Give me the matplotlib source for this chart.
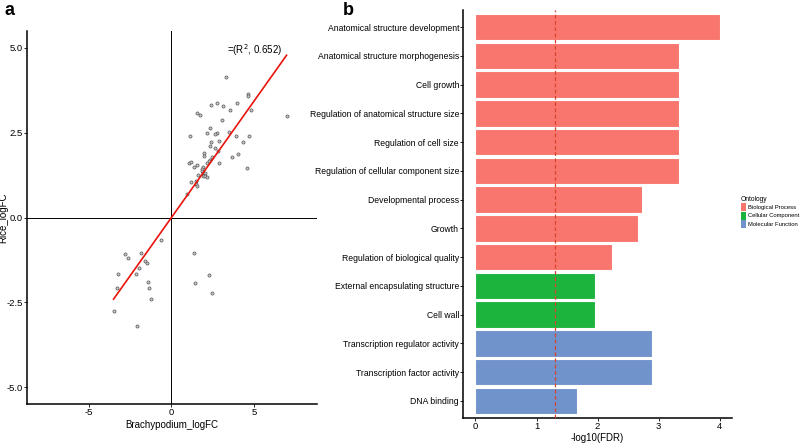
import matplotlib
matplotlib.use("agg")

import matplotlib.pyplot as plt
import numpy as np
from matplotlib.patches import Patch

plt.rcParams["font.family"] = ["Liberation Sans", "DejaVu Sans"]
plt.rcParams["axes.unicode_minus"] = False

# Panel a: logFC of Brachypodium vs rice
brachy_logfc = [3.32, 4.63, 4.63, 3.95, 2.78, 2.42, 3.12, 1.53, 1.75, 3.55, 4.83, 6.95,
                3.08, 1.11, 2.34, 2.13, 2.74, 2.62, 3.50, 3.89, 4.69, 2.88, 2.42, 4.31,
                2.31, 2.62, 2.80, 1.95, 1.99, 4.02, 3.64, 2.48, 2.34, 2.26, 2.17, 1.05,
                1.19, 2.90, 1.57, 1.35, 1.89, 1.87, 4.59, 1.85, 1.92, 1.98, 2.05, 1.90,
                2.02, 2.17, 1.63, 1.17, 1.50, 1.50, 1.55, 0.92,
                -0.65, -2.82, -2.64, -1.85, -1.61, -1.45, -1.97, -2.15, -3.22, -3.28,
                -1.41, -1.35, -1.21, -3.49, -2.10, 1.37, 1.41, 2.28, 2.44]
rice_logfc = [4.15, 3.64, 3.58, 3.37, 3.37, 3.32, 3.29, 3.09, 3.03, 3.16, 3.16, 3.00,
              2.89, 2.39, 2.63, 2.50, 2.50, 2.45, 2.53, 2.41, 2.39, 2.26, 2.24, 2.23,
              2.12, 2.04, 1.95, 1.89, 1.81, 1.88, 1.79, 1.78, 1.71, 1.66, 1.62, 1.61,
              1.64, 1.62, 1.55, 1.48, 1.50, 1.44, 1.47, 1.36, 1.32, 1.25, 1.30, 1.21,
              1.22, 1.18, 1.26, 1.05, 1.08, 0.98, 0.94, 0.69,
              -0.65, -1.09, -1.19, -1.05, -1.29, -1.35, -1.48, -1.68, -1.68, -2.08,
              -1.91, -2.07, -2.39, -2.76, -3.19, -1.04, -1.92, -1.71, -2.22]
r2_value = 0.652

# Panel b: GO enrichment
go_terms = ["Anatomical structure development", "Anatomical structure morphogenesis",
            "Cell growth", "Regulation of anatomical structure size",
            "Regulation of cell size", "Regulation of cellular component size",
            "Developmental process", "Growth", "Regulation of biological quality",
            "External encapsulating structure", "Cell wall",
            "Transcription regulator activity", "Transcription factor activity",
            "DNA binding"]
neg_log_fdr = [4.0, 3.33, 3.33, 3.33, 3.33, 3.33, 2.72, 2.66, 2.24, 1.96, 1.96,
               2.89, 2.89, 1.66]
ontology = ["Biological Process"] * 9 + ["Cellular Component"] * 2 + ["Molecular Function"] * 3
onto_colors = {"Biological Process": "#F8766D",
               "Cellular Component": "#1DB43E",
               "Molecular Function": "#7093CB"}
fdr_cutoff = 1.301

fig = plt.figure(figsize=(8, 4.43), dpi=100)

# ---- panel a
ax = fig.add_axes([0.034, 0.088, 0.3625, 0.842])
x = np.array(brachy_logfc)
y = np.array(rice_logfc)
ax.axhline(0, color="black", lw=0.7, zorder=1)
ax.axvline(0, color="black", lw=0.7, zorder=1)
ax.scatter(x, y, s=5, facecolors="#c8c8c8", edgecolors="#555555", linewidths=0.5, zorder=3)
slope, intercept = np.polyfit(x, y, 1)
xs = np.array([x.min(), x.max()])
ax.plot(xs, slope * xs + intercept, color="#e8140c", lw=1.2, zorder=4)
ax.text(5.0, 4.95, "=(R$^2$, %.3f)" % r2_value, fontsize=7, ha="center", va="center")
ax.set_xlim(-8.7, 8.8)
ax.set_ylim(-5.5, 5.5)
ax.set_xticks([-5, 0, 5])
ax.set_yticks([-5, -2.5, 0, 2.5, 5])
ax.set_yticklabels(["-5.0", "-2.5", "0.0", "2.5", "5.0"])
ax.tick_params(labelsize=6.8, length=2, width=0.6, pad=1)
for s in ["top", "right"]:
    ax.spines[s].set_visible(False)
for s in ["left", "bottom"]:
    ax.spines[s].set_linewidth(1.1)
ax.set_xlabel("Brachypodium_logFC", fontsize=7, labelpad=2)
ax.set_ylabel("Rice_logFC", fontsize=7)
ax.yaxis.set_label_coords(-0.064, 0.5)
fig.text(0.006, 0.995, "a", fontsize=13, fontweight="bold", va="top")

# ---- panel b
bx = fig.add_axes([0.579, 0.0564, 0.336, 0.921])
pos = np.arange(len(go_terms))[::-1]
bx.barh(pos, neg_log_fdr, height=0.92, color=[onto_colors[o] for o in ontology],
        edgecolor="white", linewidth=0.8, zorder=2)
bx.axvline(fdr_cutoff, color="#d9422b", lw=0.9, ls=(0, (3, 2)), zorder=3)
bx.set_yticks(pos)
bx.set_yticklabels(go_terms, fontsize=6.2)
bx.set_xlim(-0.2, 4.2)
bx.set_ylim(-0.6, len(go_terms) - 0.4)
bx.set_xticks([0, 1, 2, 3, 4])
bx.tick_params(axis="x", labelsize=6.8)
bx.tick_params(length=2, width=0.6, pad=1)
for s in ["top", "right"]:
    bx.spines[s].set_visible(False)
for s in ["left", "bottom"]:
    bx.spines[s].set_linewidth(1.1)
bx.set_xlabel("-log10(FDR)", fontsize=7, labelpad=1)
fig.text(0.428, 0.995, "b", fontsize=13, fontweight="bold", va="top")

handles = [Patch(facecolor=c, edgecolor="none", label=k) for k, c in onto_colors.items()]
leg = fig.legend(handles=handles, title="Ontology", loc="upper left",
                 bbox_to_anchor=(0.922, 0.565), frameon=False, fontsize=4.2,
                 title_fontsize=4.8, handlelength=0.9, handleheight=1.7,
                 handletextpad=0.3, labelspacing=0.1, borderpad=0)
leg._legend_box.align = "left"

fig.savefig("out.png", dpi=100)
